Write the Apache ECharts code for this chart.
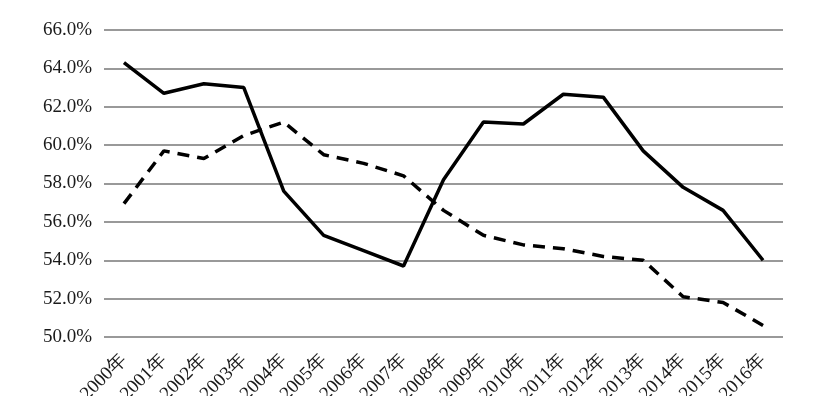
<!DOCTYPE html>
<html><head><meta charset="utf-8">
<script src="https://cdn.jsdelivr.net/npm/echarts@6/dist/echarts.min.js"></script>
<style>html,body{margin:0;padding:0;background:#fff}#c{width:821px;height:396px}</style>
</head><body><div id="c"></div>
<script>
var categories = ['2000年','2001年','2002年','2003年','2004年','2005年','2006年','2007年','2008年','2009年','2010年','2011年','2012年','2013年','2014年','2015年','2016年'];
var solidSeries = [64.3, 62.7, 63.2, 63.0, 57.6, 55.3, 54.5, 53.7, 58.2, 61.2, 61.1, 62.65, 62.5, 59.7, 57.8, 56.6, 54.0];
var dashedSeries = [56.95, 59.7, 59.3, 60.5, 61.2, 59.5, 59.05, 58.4, 56.6, 55.3, 54.8, 54.6, 54.2, 54.0, 52.1, 51.8, 50.6];
var yMin = 50, yMax = 66, yStep = 2;

var chart = echarts.init(document.getElementById('c'), null, {renderer:'canvas'});
var font = '"Liberation Serif","Times New Roman",serif';
chart.setOption({
  animation:false,
  backgroundColor:'#fff',
  grid:{left:104,right:38,top:30,bottom:59,containLabel:false,outerBoundsMode:'none'},
  xAxis:{
    type:'category', data:categories, boundaryGap:true,
    axisLine:{show:false}, axisTick:{show:false},
    axisLabel:{rotate:45, fontFamily:font, fontSize:19, color:'#1a1a1a', margin:20, interval:0}
  },
  yAxis:{
    type:'value', min:yMin, max:yMax, interval:yStep,
    axisLine:{show:false}, axisTick:{show:false},
    axisLabel:{fontFamily:font, fontSize:19, color:'#1a1a1a', margin:12,
      formatter:function(v){return v.toFixed(1)+'%';}},
    splitLine:{lineStyle:{color:'#999', width:2}}
  },
  series:[
    {type:'line', data:solidSeries, symbol:'none', lineStyle:{color:'#000', width:3.5, type:'solid'}},
    {type:'line', data:dashedSeries, symbol:'none', lineStyle:{color:'#000', width:3.5, type:[12,8]}}
  ]
});
</script></body></html>
